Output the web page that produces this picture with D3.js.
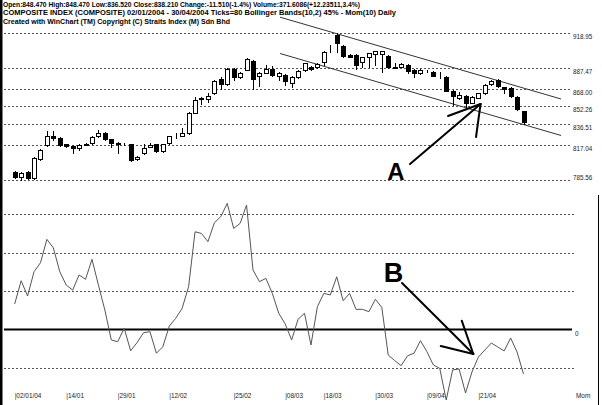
<!DOCTYPE html>
<html><head><meta charset="utf-8">
<script src="https://cdn.jsdelivr.net/npm/d3@7"></script>
<style>html,body{margin:0;padding:0;background:#fff;overflow:hidden}</style>
</head><body><svg id="c" width="602" height="405"></svg>
<script>
// ---------- data ----------
const opens  = [793.1,788.5,793.1,787.1,804.3,817.3,825.5,824.0,817.9,816.4,
                814.3,817.7,818.9,825.5,828.5,822.5,819.4,818.2,817.9,804.3,
                809.8,815.8,817.9,811.9,818.9,826.3,825.8,827.9,846.8,860.4,
                859.1,864.2,876.9,872.4,886.3,878.6,885.6,893.5,879.9,883.1,
                886.0,879.9,880.8,873.3,878.8,885.4,888.4,887.8,892.9,904.4,
                917.5,907.2,899.0,899.0,892.4,897.4,899.9,899.9,898.1,888.0,
                888.4,889.9,885.4,882.4,884.6,883.8,880.9,879.3,866.6,859.7,
                861.8,855.7,860.2,864.2,872.7,876.3,869.7,868.8,861.2,848.47];
const highs  = [794.0,793.0,794.0,806.0,813.5,830.3,830.3,825.0,818.5,817.0,
                817.8,818.8,825.5,830.9,829.5,823.0,820.0,819.3,818.5,807.3,
                817.9,818.9,818.5,818.5,825.9,828.0,832.5,847.0,860.6,861.0,
                864.2,876.0,878.7,887.0,887.0,883.5,896.5,894.2,883.5,889.9,
                889.0,883.5,881.5,880.0,885.3,892.0,889.0,891.5,902.5,908.1,
                918.95,908.0,899.6,899.6,897.5,901.0,902.7,903.0,899.0,891.4,
                891.5,890.5,886.0,886.0,885.5,884.5,883.5,880.0,867.2,865.7,
                862.5,861.8,864.8,872.4,876.3,877.0,870.3,869.5,862.0,848.47];
const lows   = [787.5,785.56,786.5,786.5,803.5,816.5,821.9,816.8,815.8,810.3,
                812.8,817.2,818.3,825.0,822.0,815.8,810.3,817.5,803.0,803.5,
                809.0,815.2,811.0,811.3,818.3,824.0,825.3,827.0,846.0,854.3,
                856.1,863.5,868.1,871.8,876.3,878.0,885.0,868.4,871.0,882.5,
                880.0,876.3,871.8,870.2,878.0,884.8,885.4,887.0,889.9,901.7,
                901.4,897.5,896.8,886.0,888.4,887.8,889.9,883.8,887.0,886.9,
                887.8,882.4,879.3,881.8,884.0,879.5,878.0,866.0,853.6,859.0,
                852.1,855.0,859.6,863.6,872.0,870.3,864.2,861.0,849.0,836.52];
const closes = [788.5,792.2,787.1,805.2,812.8,825.5,823.4,817.6,816.4,814.9,
                817.3,818.2,824.9,828.5,822.5,819.4,817.9,818.6,803.7,806.7,
                814.9,817.3,811.9,817.9,825.5,826.6,828.5,846.4,857.7,858.8,
                862.1,875.4,872.7,886.3,879.3,882.7,895.2,877.2,882.7,886.1,
                880.8,882.9,875.7,879.3,884.7,891.4,886.0,890.8,902.0,904.6,
                909.6,898.1,897.4,889.9,896.9,900.5,902.2,902.6,887.8,887.6,
                890.8,884.7,882.4,885.4,884.9,880.2,880.7,866.6,861.8,862.7,
                855.7,861.2,864.2,871.8,875.7,870.9,867.9,861.8,849.7,838.21];
const momentum = [14.2,27.1,18.6,32.1,37.1,50.1,45.4,32.1,24.7,21.9,
                  30.3,27.9,39.0,24.7,10.8,-5.8,-6.8,0.7,-11.8,-7.3,
                  -1.8,-1.2,-13.2,-9.6,1.9,6.2,11.8,23.8,54.3,53.4,
                  48.8,59.3,62.7,70.1,56.2,59.0,69.2,33.1,26.6,28.4,
                  20.1,9.0,3.1,-5.8,5.7,9.0,-8.6,12.7,20.1,19.2,
                  29.3,16.0,20.1,11.2,11.2,9.9,16.8,12.3,-14.2,-17.3,
                  -20.1,-14.6,-13.2,-6.2,-12.3,-19.7,-21.6,-39.2,-22.5,-21.9,
                  -35.3,-23.6,-15.3,-11.4,-7.5,-9.7,-11.9,-4.7,-12.5,-24.7];
const fibLevels = [918.95, 887.47, 868.00, 852.26, 836.51, 817.04, 785.56];
const momGrid = [64.2, 42.8, 21.4, -21.4];
const dateTicks = [0, 8, 16, 24, 34, 42, 48, 56, 64, 72];
const dateLabels = ["02/01/04","14/01","29/01","12/02","25/02","08/03","18/03","30/03","09/04","21/04"];
const headerLines = [
  "Open:848.470  High:848.470  Low:836.520  Close:838.210  Change:-11.510(-1.4%)  Volume:371.6086(+12.23511,3.4%)",
  "COMPOSITE INDEX (COMPOSITE)  02/01/2004 - 30/04/2004  Ticks=80 Bollinger Bands(10,2)  45% - Mom(10)    Daily",
  "Created with WinChart (TM)  Copyright (C) Straits Index (M) Sdn Bhd"
];
const headerWidths = [357, 393, 227];
// annotations in data coordinates [tickIndex, value]
const trendLines = [
  [[41.2, 933.29], [84.83, 859.06]],
  [[41.2, 900.35], [84.83, 825.94]]
];
const arrowA = {tail:[61.38, 800.08], tip:[72.33, 854.52], barbs:[[67.28, 843.64],[71.63, 824.58]], label:"A", at:[59.2, 786.0]};
const arrowB = {tail:[60.14, 25.83], tip:[71.21, -13.61], barbs:[[66.15, -9.17],[69.41, 4.89]], label:"B", at:[58.82, 26.4]};

// ---------- drawing ----------
const svg = d3.select("#c");
const x = d3.scaleLinear().domain([0, 79]).range([14.7, 523.5]);
const yP = d3.scaleLinear().domain([785.56, 918.95]).range([180, 33]);
const yM = d3.scaleLinear().domain([0, 21.4]).range([329.5, 291]);
const crisp = v => Math.round(v) + 0.5;
const GX0 = 4, GX1 = 572;

function smallText(g, px, py, str, size, sx, fill, anchor) {
  return g.append("text")
    .attr("transform", `translate(${px},${py}) scale(${sx},1)`)
    .attr("font-family", "Liberation Sans, Arial, sans-serif")
    .attr("font-size", size).attr("fill", fill)
    .attr("text-anchor", anchor || "start")
    .text(str);
}

// header
const hdr = svg.append("g");
headerLines.forEach((t, k) => {
  hdr.append("text").attr("x", 3).attr("y", 7 + k * 8.4)
    .attr("font-family", "Liberation Sans, Arial, sans-serif")
    .attr("font-size", 7.4).attr("font-weight", "bold").attr("fill", "#000")
    .attr("textLength", headerWidths[k]).attr("lengthAdjust", "spacingAndGlyphs")
    .text(t);
});

// price grid (fibonacci levels)
const gP = svg.append("g");
fibLevels.forEach((v, k) => {
  const yy = crisp(yP(v));
  gP.append("line").attr("x1", GX0).attr("x2", GX1).attr("y1", yy).attr("y2", yy)
    .attr("stroke", "#555").attr("stroke-width", 1).attr("stroke-dasharray", "2,2");
  const ty = k === fibLevels.length - 1 ? yP(v) - 0.5 : yP(v) + 6;
  smallText(gP, 573, ty, v.toFixed(2), 7, 0.9, "#222");
});

// momentum grid
const gM = svg.append("g");
momGrid.forEach(v => {
  const yy = crisp(yM(v));
  gM.append("line").attr("x1", GX0).attr("x2", GX1 + 3).attr("y1", yy).attr("y2", yy)
    .attr("stroke", "#555").attr("stroke-width", 1).attr("stroke-dasharray", "2,2");
});
gM.append("line").attr("x1", GX0).attr("x2", GX1).attr("y1", yM(0)).attr("y2", yM(0))
  .attr("stroke", "#000").attr("stroke-width", 2);
smallText(gM, 575, yM(0) + 6, "0", 7, 0.9, "#222");

// trend lines
trendLines.forEach(l => {
  svg.append("line")
    .attr("x1", x(l[0][0])).attr("y1", yP(l[0][1]))
    .attr("x2", x(l[1][0])).attr("y2", yP(l[1][1]))
    .attr("stroke", "#333").attr("stroke-width", 1);
});

// candles
const gC = svg.append("g");
closes.forEach((c, i) => {
  const o = opens[i], h = highs[i], l = lows[i];
  const cx = Math.round(x(i));
  gC.append("line").attr("x1", cx + 0.5).attr("x2", cx + 0.5)
    .attr("y1", Math.round(yP(h))).attr("y2", Math.round(yP(l)) + 1)
    .attr("stroke", "#000").attr("stroke-width", 1);
  const top = Math.round(yP(Math.max(o, c))), bot = Math.round(yP(Math.min(o, c)));
  gC.append("rect").attr("x", cx - 2 + 0.5).attr("y", top + 0.5)
    .attr("width", 4).attr("height", Math.max(0, bot - top))
    .attr("fill", c < o ? "#000" : "#fff").attr("stroke", "#000").attr("stroke-width", 1);
});

// momentum line
svg.append("path").datum(momentum)
  .attr("d", d3.line().x((d, i) => x(i)).y(d => yM(d)))
  .attr("fill", "none").attr("stroke", "#555").attr("stroke-width", 1);

// arrows + letters
function drawArrow(a, ys) {
  const g = svg.append("g").attr("stroke", "#000").attr("stroke-width", 2).attr("stroke-linecap", "round");
  const tip = [x(a.tip[0]), ys(a.tip[1])];
  g.append("line").attr("x1", x(a.tail[0])).attr("y1", ys(a.tail[1])).attr("x2", tip[0]).attr("y2", tip[1]);
  a.barbs.forEach(b => g.append("line").attr("x1", x(b[0])).attr("y1", ys(b[1])).attr("x2", tip[0]).attr("y2", tip[1]));
  svg.append("text").attr("x", x(a.at[0])).attr("y", ys(a.at[1]))
    .attr("text-anchor", "middle").attr("font-family", "Liberation Sans, Arial, sans-serif")
    .attr("font-weight", "bold").attr("font-size", a.label === "A" ? 24 : 27).attr("fill", "#000")
    .text(a.label);
}
drawArrow(arrowA, yP);
drawArrow(arrowB, yM);

// date axis
const gX = svg.append("g");
dateTicks.forEach((t, k) => {
  smallText(gX, x(t), 398, "|" + dateLabels[k], 7, 0.92, "#222");
});
smallText(gX, 576, 398, "Mom", 7, 0.92, "#222");

// frame
svg.append("rect").attr("x", 0).attr("y", 0).attr("width", 2.5).attr("height", 405).attr("fill", "#000");
svg.append("line").attr("x1", 598.5).attr("x2", 598.5).attr("y1", 195).attr("y2", 405)
  .attr("stroke", "#000").attr("stroke-width", 1);
</script></body></html>
